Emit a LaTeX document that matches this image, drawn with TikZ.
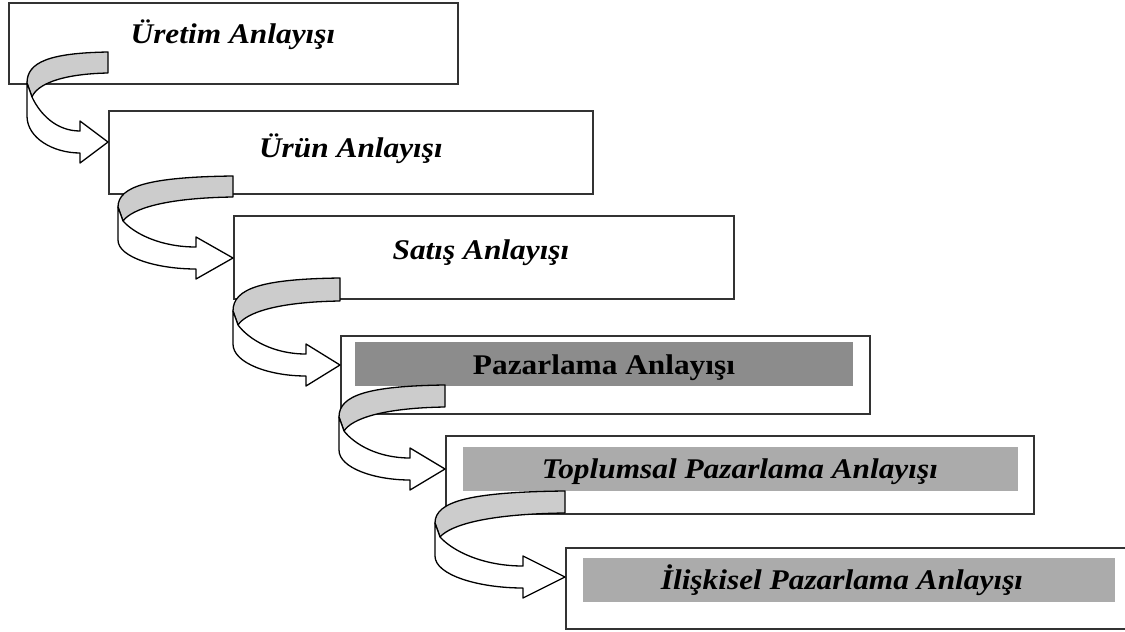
\documentclass[tikz,border=0pt]{standalone}
\usepackage{fontspec}
\setmainfont{Liberation Serif}[FakeStretch=1.1]
\usepackage{xcolor}
\usepackage{tikz}

\newdimen\okx
% #1 hedef kutu, #2 sol kenar x, #3/#4 gri bant ucu (ust/alt y), #5 ok ucu y, #6 ok basi boyu
\newcommand{\donus}[6]{%
  \pgfextractx{\okx}{\pgfpointanchor{#1}{west}}%
  \pgfmathsetmacro{\okE}{\okx/1pt}%
  \pgfmathsetmacro{\okW}{\okE-#2}%
  \pgfmathsetmacro{\okB}{\okE-#6}%
  \pgfmathsetmacro{\okD}{\okB-#2}%
  \filldraw[bantok] (\okE,#3) .. controls ({\okE-0.72*\okW},{#3+1}) and (#2,{#3+10}) .. (#2,{#4+10})
    -- ({#2+5},{#4+24}) .. controls ({#2+0.12*\okW},{#4+12}) and ({\okE-0.6*\okW},{#4+1}) .. (\okE,#4) -- cycle;
  \filldraw[okgovde] (#2,{#4+10}) -- (#2,{#4+43})
    .. controls (#2,{#4+43+0.6*(#5-#4-32)}) and ({\okB-0.5*\okD},{#5+11}) .. (\okB,{#5+11})
    -- (\okB,{#5+21}) -- (\okE,#5) -- (\okB,{#5-21}) -- (\okB,{#5-11})
    .. controls ({\okB-0.45*\okD},{#5-11}) and ({#2+5+0.15*\okD},{#4+24+0.5*(#5-#4-35)}) .. ({#2+5},{#4+24})
    -- cycle;
}

\begin{document}
\begin{tikzpicture}[
    x=1pt, y=-1pt,
    kutu/.style={draw=black!80, line width=1.6pt, anchor=north west, inner sep=0pt},
    bant/.style={anchor=north west, inner sep=0pt},
    yazi/.style={anchor=base, inner sep=0pt, font=\fontsize{28.5}{32}\selectfont\bfseries\itshape},
    bantok/.style={fill=black!20, draw=black, line width=1.3pt, line join=round},
    okgovde/.style={fill=white, draw=black, line width=1.3pt, line join=round}
]
\useasboundingbox (0,0) rectangle (1125,632);
\clip (0,0) rectangle (1125,632);

% kutular
\node[kutu, minimum width=449pt, minimum height=81pt] (b1) at (8,2) {};
\node[kutu, minimum width=484pt, minimum height=83pt] (b2) at (108,110) {};
\node[kutu, minimum width=500pt, minimum height=83pt] (b3) at (233,215) {};
\node[kutu, minimum width=529pt, minimum height=78pt] (b4) at (340,335) {};
\node[kutu, minimum width=588pt, minimum height=78pt] (b5) at (445,435) {};
\node[kutu, minimum width=575pt, minimum height=81pt] (b6) at (565,547) {};

% gri bantlar
\node[bant, fill=black!45, minimum width=498pt, minimum height=44pt] (g4) at (355,342) {};
\node[bant, fill=black!33, minimum width=555pt, minimum height=44pt] (g5) at (463,447) {};
\node[bant, fill=black!33, minimum width=532pt, minimum height=44pt] (g6) at (583,558) {};

\node[yazi] (t1) at (233,43) {Üretim Anlayışı};
\node[yazi] (t2) at (351,157) {Ürün Anlayışı};
\node[yazi] (t3) at (481,259) {Satış Anlayışı};
\node[yazi, font=\fontsize{28.5}{32}\selectfont\bfseries] (t4) at (604,374) {Pazarlama Anlayışı};
\node[yazi] (t5) at (740,478) {Toplumsal Pazarlama Anlayışı};
\node[yazi] (t6) at (842,589) {İlişkisel Pazarlama Anlayışı};

% donus oklari
\donus{b2}{27}{52}{73}{142}{28}
\donus{b3}{118}{176}{197}{258}{37}
\donus{b4}{233}{278}{301}{365}{34}
\donus{b5}{339}{385}{407}{469}{35}
\donus{b6}{435}{491}{513}{577}{42}
\end{tikzpicture}
\end{document}
